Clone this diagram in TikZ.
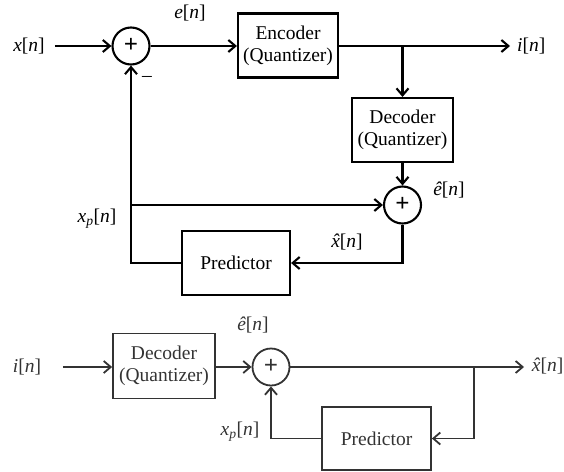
\documentclass[tikz,border=0pt]{standalone}
\usepackage{fontspec}
\setmainfont{Liberation Serif}
\usetikzlibrary{arrows.meta}
% italic signal names
\newcommand\sg[1]{\textit{#1}[\textit{n}]}
% italic x with a circumflex on top
\newcommand\hatx{\textit{\accent"02C6 x}}
\begin{document}
\begin{tikzpicture}[x=1pt,y=-1pt,
  txt/.style={font=\fontsize{19.5}{22}\selectfont},
  blk/.style={draw,line width=#1,align=center,inner sep=0,txt},
  blk/.default=2.1pt,
  sumnode/.style={draw,circle,line width=2.1pt,minimum size=37pt,inner sep=0,
    font=\fontsize{25}{25}\selectfont\bfseries},
  lbl/.style={inner sep=0,txt},
  wire/.style={line width=2.1pt},
  sig/.style={wire,-{Straight Barb[length=7pt,width=12pt]}},
  lower/.style={draw=black!80,text=black!80,line width=1.8pt},
]
\useasboundingbox (0,0) rectangle (564,471);

% ---------------- encoder ----------------
\node[lbl] (xin) at (29,46) {\sg{x}};
\node[sumnode] (s1) at (131,46) {\raisebox{0.06em}{+}};
\node[blk,minimum width=100pt,minimum height=64pt] (enc) at (288,45.5) {Encoder\\(Quantizer)};
\node[lbl,anchor=west] (iout) at (517,46) {\sg{i}};
\node[blk,minimum width=101pt,minimum height=64pt] (dec1) at (402.5,130) {Decoder\\(Quantizer)};
\node[sumnode] (s2) at (402.5,205) {\raisebox{0.06em}{+}};
\node[blk,minimum width=108pt,minimum height=64pt] (pred1) at (236,263) {Predictor};
\coordinate (br1) at (402.5,46);
\coordinate (tap1) at (131,205);

\node[lbl] (en) at (190,13) {\sg{e}};
\node[lbl] (minus) at (147,79) {\textendash};
\node[lbl] (ehat1) at (449,190) {\sg{ê}};
\node[lbl] (xp1) at (97,219) {\textit{x}\textsubscript{\textit{p}}[\textit{n}]};
\node[lbl] (xhat1) at (347,242) {\hatx[\textit{n}]};

\draw[sig] ([xshift=10pt]xin.east) -- (s1);
\draw[sig] (s1) -- (s1 -| enc.west);
\draw[sig] (enc.east |- s1) -- ([xshift=-7pt]iout.west);
\draw[sig] (br1) -- (dec1);
\draw[sig] (dec1) -- (s2);
\draw[sig] (tap1) -- (s2);
\draw[sig] (s2) |- (pred1);
\draw[sig] (pred1) -| (s1);

% ---------------- decoder ----------------
\begin{scope}[every path/.append style={lower}]
\node[lbl,text=black!80] (iin) at (27,367) {\sg{i}};
\node[blk=1.8pt,lower,minimum width=102pt,minimum height=65pt] (dec2) at (164,366) {Decoder\\(Quantizer)};
\node[sumnode,lower] (s3) at (271,367) {\raisebox{0.06em}{+}};
\node[lbl,anchor=west,text=black!80] (xhat2) at (531,366) {\hatx[\textit{n}]};
\node[blk=1.8pt,lower,minimum width=109pt,minimum height=63pt] (pred2) at (376.5,438.5) {Predictor};
\coordinate (br2) at (474,367);
\node[lbl,text=black!80] (ehat2) at (253,325) {\sg{ê}};
\node[lbl,text=black!80] (xp2) at (240,432) {\textit{x}\textsubscript{\textit{p}}[\textit{n}]};

\draw[sig,lower] ([xshift=21pt]iin.east) -- (iin.east -| dec2.west);
\draw[sig,lower] (dec2.east |- s3) -- (s3);
\draw[sig,lower] (s3) -- ([xshift=-7pt]xhat2.west |- s3);
\draw[sig,lower] (br2) |- (pred2);
\draw[sig,lower] (pred2) -| (s3);
\end{scope}
\end{tikzpicture}
\end{document}
